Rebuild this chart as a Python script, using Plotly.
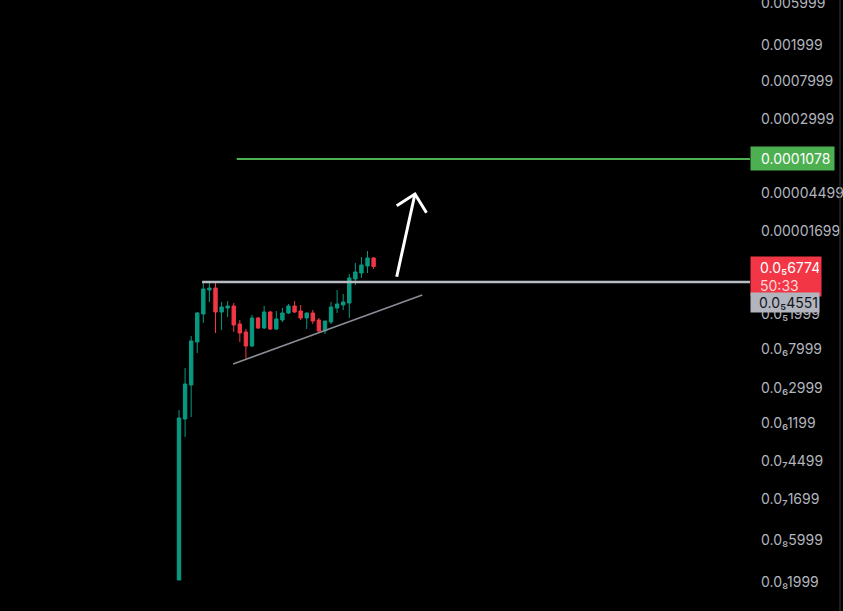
import math
import plotly.graph_objects as go

# candle index 0..32, prices
opens = [2.13e-9, 1.341e-7, 3.216e-7, 9.72e-7, 1.998e-6, 3.703e-6, 3.899e-6, 2.103e-6, 2.331e-6,
         2.454e-6, 1.544e-6, 1.257e-6, 8.77e-7, 1.803e-6, 1.393e-6, 2.103e-6, 1.358e-6, 1.712e-6,
         2.049e-6, 2.454e-6, 2.158e-6, 1.803e-6, 2.049e-6, 1.712e-6, 1.290e-6, 1.626e-6, 2.331e-6,
         2.519e-6, 2.652e-6, 4.917e-6, 5.738e-6, 6.868e-6, 8.441e-6]
highs = [1.690e-7, 4.979e-7, 1.134e-6, 2.103e-6, 4.435e-6, 4.435e-6, 4.435e-6, 2.720e-6, 2.791e-6,
         2.652e-6, 1.712e-6, 1.358e-6, 1.948e-6, 1.849e-6, 2.454e-6, 2.158e-6, 2.158e-6, 2.331e-6,
         2.585e-6, 2.791e-6, 2.519e-6, 2.070e-6, 2.215e-6, 1.803e-6, 1.669e-6, 2.720e-6, 3.703e-6,
         3.342e-6, 5.592e-6, 7.420e-6, 8.660e-6, 1.010e-5, 8.660e-6]
lows = [2.13e-9, 8.44e-8, 1.411e-7, 7.32e-7, 1.585e-6, 2.720e-6, 1.225e-6, 1.323e-6, 1.849e-6,
        1.257e-6, 9.72e-7, 6.117e-7, 8.55e-7, 1.358e-6, 1.358e-6, 1.323e-6, 1.323e-6, 1.626e-6,
        1.998e-6, 2.049e-6, 1.712e-6, 1.358e-6, 1.544e-6, 1.225e-6, 1.194e-6, 1.544e-6, 2.049e-6,
        2.215e-6, 1.803e-6, 4.213e-6, 5.045e-6, 5.738e-6, 6.36e-6]
closes = [1.376e-7, 3.299e-7, 9.975e-7, 2.049e-6, 3.800e-6, 3.899e-6, 2.103e-6, 2.392e-6, 2.454e-6,
          1.505e-6, 1.225e-6, 8.77e-7, 1.803e-6, 1.393e-6, 2.103e-6, 1.358e-6, 1.757e-6, 2.049e-6,
          2.454e-6, 2.103e-6, 1.803e-6, 2.049e-6, 1.669e-6, 1.290e-6, 1.669e-6, 2.392e-6, 2.585e-6,
          2.720e-6, 5.045e-6, 5.886e-6, 7.046e-6, 8.441e-6, 6.774e-6]

tick_vals = [0.005999, 0.001999, 0.0007999, 0.0002999, 0.00004499, 0.00001699, 1.999e-6,
             7.999e-7, 2.999e-7, 1.199e-7, 4.499e-8, 1.699e-8, 5.999e-9, 1.999e-9]
tick_text = ["0.005999", "0.001999", "0.0007999", "0.0002999", "0.00004499", "0.00001699",
             "0.0₅1999", "0.0₆7999", "0.0₆2999", "0.0₆1199", "0.0₇4499", "0.0₇1699",
             "0.0₈5999", "0.0₈1999"]

# drawings
target_price = 0.0001078
resistance_price = 4.551e-6
last_price = 6.774e-6
countdown = "50:33"
trend_x = [8.9, 40.0]
trend_y = [5.52e-7, 3.257e-6]
arrow_x = [35.8, 38.8, None, 35.8, 38.8, 40.7]
arrow_y = [5.216e-6, 4.378e-5, None, 3.24e-5, 4.378e-5, 2.705e-5]

x_range = [-29.44, 93.9]
idx = list(range(len(opens)))
FONT = "Inter, Roboto, sans-serif"

fig = go.Figure()
fig.add_trace(go.Candlestick(
    x=idx, open=opens, high=highs, low=lows, close=closes,
    increasing=dict(line=dict(color="#089981", width=1), fillcolor="#089981"),
    decreasing=dict(line=dict(color="#f23645", width=1), fillcolor="#f23645"),
    whiskerwidth=0, showlegend=False, hoverinfo="skip"))

fig.add_trace(go.Scatter(x=[9.5, x_range[1]], y=[target_price] * 2, mode="lines",
                         line=dict(color="#4caf50", width=2), showlegend=False, hoverinfo="skip"))
fig.add_trace(go.Scatter(x=[3.8, x_range[1]], y=[resistance_price] * 2, mode="lines",
                         line=dict(color="#b8bcc4", width=2.5), showlegend=False, hoverinfo="skip"))
fig.add_trace(go.Scatter(x=trend_x, y=trend_y, mode="lines",
                         line=dict(color="#8a8d96", width=1.5), showlegend=False, hoverinfo="skip"))
fig.add_trace(go.Scatter(x=arrow_x, y=arrow_y, mode="lines",
                         line=dict(color="#ffffff", width=3), showlegend=False, hoverinfo="skip"))

# price labels on the scale
fig.add_annotation(x=1, xref="paper", xanchor="left", y=math.log10(target_price), yref="y",
                   text="\u2002" + "0.0001078", showarrow=False, align="left", width=77,
                   bgcolor="#4caf50", borderpad=3, font=dict(family=FONT, size=14, color="#ffffff"))
fig.add_annotation(x=1, xref="paper", xanchor="left", y=-5.275, yref="y",
                   text="\u2002" + "0.0₅6774<br>\u2002<span style='color:#ffd6da'>" + countdown + "</span>",
                   showarrow=False, align="left", width=66,
                   bgcolor="#f23645", borderpad=2, font=dict(family=FONT, size=14, color="#ffffff"))
fig.add_annotation(x=1, xref="paper", xanchor="left", y=-5.5765, yref="y",
                   text="\u2002" + "0.0₅4551", showarrow=False, align="left", width=66,
                   bgcolor="#b2b5be", borderpad=1, font=dict(family=FONT, size=14, color="#131722"))

fig.add_shape(type="line", xref="paper", yref="paper", x0=1.12, x1=1.12, y0=0, y1=1,
              line=dict(color="#3a3a3a", width=1))

fig.update_layout(
    width=843, height=611,
    plot_bgcolor="#000000", paper_bgcolor="#000000",
    margin=dict(l=0, r=93, t=0, b=0),
    boxgap=0.2,
    xaxis=dict(range=x_range, visible=False, rangeslider=dict(visible=False), automargin=False),
    yaxis=dict(type="log", range=[-9.018, -2.191], side="right", showgrid=False, zeroline=False,
               tickvals=tick_vals, ticktext=tick_text, ticks="", ticklabelstandoff=10,
               ticklabeloverflow="allow", automargin=False,
               tickfont=dict(family=FONT, size=14, color="#b2b5be"), showline=False),
)
fig.write_html("out.html", config={"displayModeBar": False},
               post_script="document.body.style.margin='0';document.body.style.background='#000';")
